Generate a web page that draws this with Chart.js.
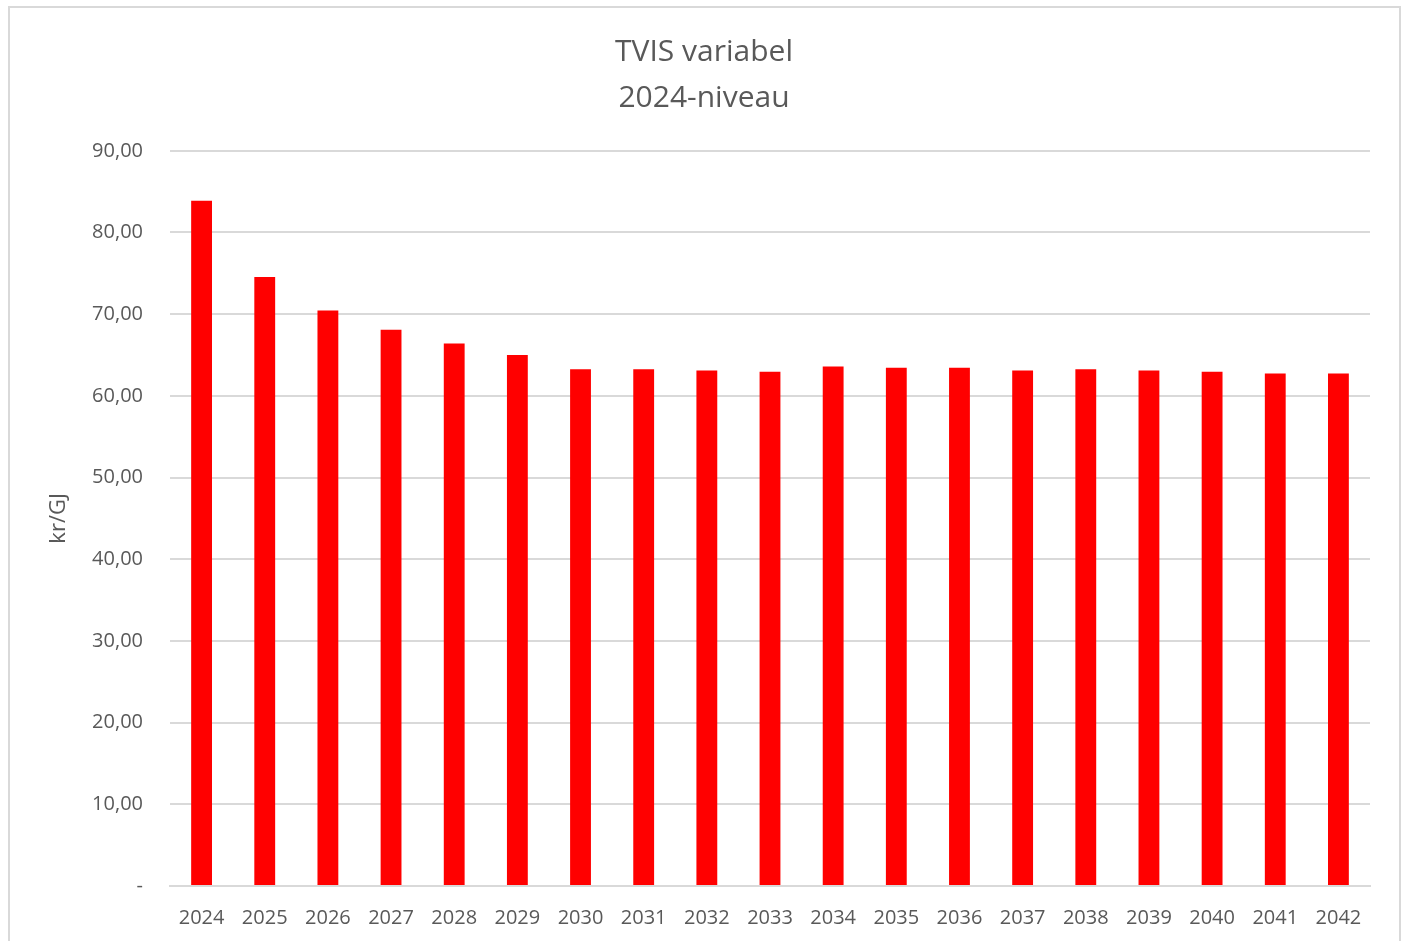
<!DOCTYPE html>
<html>
<head>
<meta charset="utf-8">
<script src="https://cdn.jsdelivr.net/npm/chart.js@4.4.1/dist/chart.umd.min.js"></script>
<style>
  html, body { margin: 0; padding: 0; background: #fff; overflow: hidden; }
  #frame { position: absolute; left: 8px; top: 6px; width: 1393px; height: 960px; border: 2px solid #d9d9d9; box-sizing: border-box; }
  #wrap { position: absolute; left: 0; top: 0; width: 1408px; height: 941px; }
</style>
</head>
<body>
<div id="frame"></div>
<div id="wrap"><canvas id="c" width="1408" height="941"></canvas></div>
<script>
const categories = ['2024','2025','2026','2027','2028','2029','2030','2031','2032','2033','2034','2035','2036','2037','2038','2039','2040','2041','2042'];
const values = [83.9, 74.55, 70.45, 68.1, 66.4, 65.0, 63.25, 63.25, 63.1, 62.95, 63.6, 63.45, 63.45, 63.1, 63.25, 63.1, 62.95, 62.75, 62.75];
const yTickValues = [0, 10, 20, 30, 40, 50, 60, 70, 80, 90];
const yTickLabels = ['-', '10,00', '20,00', '30,00', '40,00', '50,00', '60,00', '70,00', '80,00', '90,00'];
const titleLines = ['TVIS variabel', '2024-niveau'];
const yTitle = 'kr/GJ';

const FONT = "'Open Sans', 'Noto Sans', sans-serif";
const GREY = '#595959';

new Chart(document.getElementById('c'), {
  type: 'bar',
  data: {
    labels: categories,
    datasets: [{
      data: values,
      backgroundColor: '#ff0000',
      borderWidth: 0,
      barPercentage: 0.33,
      categoryPercentage: 1.0
    }]
  },
  options: {
    responsive: false,
    animation: false,
    devicePixelRatio: 1,
    layout: { padding: { left: 0, right: 0, top: 0, bottom: 0 } },
    plugins: {
      legend: { display: false },
      tooltip: { enabled: false },
      title: {
        display: true,
        text: titleLines,
        color: GREY,
        font: { family: FONT, size: 30, weight: 'normal', lineHeight: 1.53 },
        padding: { top: 30, bottom: 29 }
      }
    },
    scales: {
      x: {
        grid: { display: false, drawTicks: false },
        border: { display: true, color: '#d9d9d9', width: 2 },
        ticks: { color: GREY, font: { family: FONT, size: 20 }, padding: 20, maxRotation: 0, autoSkip: false },
        afterFit: (s) => { s.height = 55; }
      },
      y: {
        min: 0, max: 90,
        afterBuildTicks: (s) => { s.ticks = yTickValues.map(v => ({ value: v })); },
        grid: { color: '#d9d9d9', lineWidth: 2, drawTicks: false },
        border: { display: false },
        ticks: {
          color: GREY,
          font: { family: FONT, size: 20 },
          padding: 27,
          callback: (v) => { const i = yTickValues.indexOf(v); return i >= 0 ? yTickLabels[i] : ''; }
        },
        title: {
          display: true,
          text: yTitle,
          color: GREY,
          font: { family: FONT, size: 22 },
          padding: { top: 46, bottom: 0 }
        },
        afterFit: (s) => { s.width = 170; }
      },
      yRight: {
        position: 'right',
        min: 0, max: 90,
        grid: { display: false, drawTicks: false },
        border: { display: false },
        ticks: { display: false },
        afterFit: (s) => { s.width = 38; }
      }
    }
  }
});
</script>
</body>
</html>
